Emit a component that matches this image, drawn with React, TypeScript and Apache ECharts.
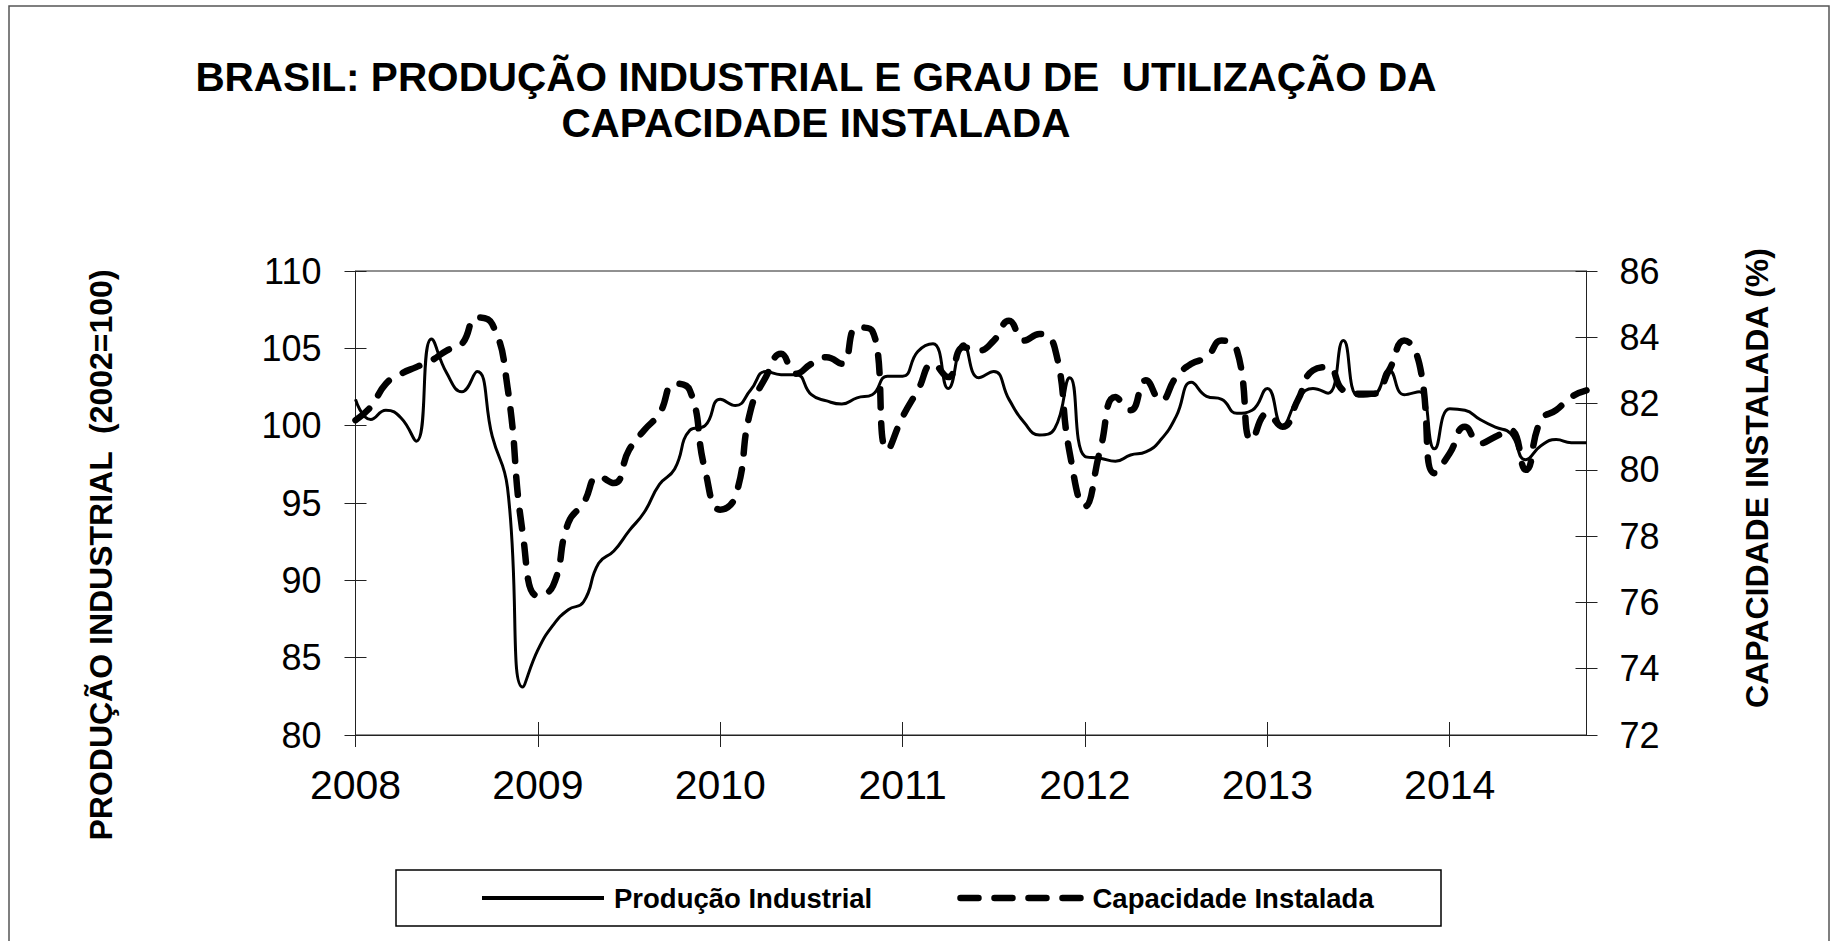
import React, { useEffect, useRef } from 'react';
import * as echarts from 'echarts';

const FONT = '"Liberation Sans", Arial, sans-serif';

const TITLE = 'BRASIL: PRODUÇÃO INDUSTRIAL E GRAU DE  UTILIZAÇÃO DA\nCAPACIDADE INSTALADA';
const LEFT_AXIS_TITLE = 'PRODUÇÃO INDUSTRIAL  (2002=100)';
const RIGHT_AXIS_TITLE = 'CAPACIDADE INSTALADA (%)';
const SERIES_NAMES = ['Produção Industrial', 'Capacidade Instalada'];

const years = ['2008', '2009', '2010', '2011', '2012', '2013', '2014'];
const monthCodes = ['01', '02', '03', '04', '05', '06', '07', '08', '09', '10', '11', '12'];
const lastYearMonths = 10; // data ends in Oct 2014

const months: string[] = [];
years.forEach((y, yi) => {
  const n = yi === years.length - 1 ? lastYearMonths : 12;
  for (let m = 0; m < n; m++) months.push(`${y}-${monthCodes[m]}`);
});

// Produção Industrial (2002=100), Jan 2008 – Oct 2014
const producao = [
  101.7, 100.4, 101.0, 100.5, 99.0, 105.6, 103.4, 102.2, 103.5, 99.3, 96.0, 83.1,
  85.5, 87.1, 88.1, 88.6, 91.1, 91.9, 93.2, 94.4, 96.2, 97.2, 99.7, 100.0,
  101.7, 101.3, 102.3, 103.5, 103.3, 103.3, 102.0, 101.6, 101.4, 101.8, 102.0, 103.2,
  103.2, 104.8, 105.3, 102.4, 105.3, 103.1, 103.5, 101.7, 100.2, 99.4, 99.8, 103.1,
  98.0, 97.9, 97.7, 98.1, 98.3, 99.1, 100.6, 102.8, 101.9, 101.7, 100.8, 101.0,
  102.4, 100.0, 101.7, 102.4, 102.1, 105.5, 101.9, 102.0, 103.6, 102.0, 102.2, 98.5,
  101.1, 101.0, 100.4, 99.9, 99.5, 97.8, 98.7, 99.1, 98.9, 98.9,
];

// Grau de utilização da capacidade instalada (%), Jan 2008 – Oct 2014
const capacidade = [
  81.5, 81.9, 82.6, 82.9, 83.1, 83.3, 83.6, 83.8, 84.6, 84.4, 82.5, 78.1,
  76.2, 76.5, 78.4, 79.0, 79.8, 79.6, 80.6, 81.2, 81.7, 82.6, 82.4, 80.0,
  78.8, 79.2, 81.8, 82.8, 83.5, 82.9, 83.2, 83.4, 83.2, 84.3, 84.2, 80.6,
  81.6, 82.4, 83.2, 82.8, 83.7, 83.6, 83.9, 84.5, 83.9, 84.1, 83.7, 80.5,
  78.9, 80.6, 82.2, 81.8, 82.7, 82.1, 82.8, 83.2, 83.4, 83.9, 83.6, 80.9,
  81.7, 81.3, 82.1, 83.0, 83.1, 82.4, 82.3, 82.3, 83.0, 83.9, 83.2, 79.9,
  80.5, 81.3, 80.8, 81.0, 81.2, 80.0, 81.5, 81.8, 82.2, 82.4,
];

const leftTicks = { min: 80, max: 110, interval: 5 };
const rightTicks = { min: 72, max: 86, interval: 2 };

export default function App() {
  const ref = useRef<HTMLDivElement>(null);

  useEffect(() => {
    if (!ref.current) return;
    const chart = echarts.init(ref.current, null, { renderer: 'svg' });

    const yearFormatter = (v: string) => (v.endsWith('-01') ? v.slice(0, 4) : '');

    const baseX = {
      type: 'category' as const,
      data: months,
      boundaryGap: false,
      position: 'bottom' as const,
      splitLine: { show: false },
    };

    chart.setOption({
      animation: false,
      backgroundColor: '#ffffff',
      title: {
        text: TITLE,
        left: 816,
        top: 54,
        textAlign: 'center',
        padding: 0,
        textStyle: {
          fontFamily: FONT,
          fontSize: 40.5,
          fontWeight: 'bold',
          lineHeight: 46,
          color: '#000',
        },
      },
      grid: {
        left: 355.5,
        right: 248.5,
        top: 271,
        bottom: 206,
        show: true,
        borderColor: '#222',
        borderWidth: 1,
        backgroundColor: 'transparent',
      },
      legend: {
        left: 480,
        top: 884,
        padding: 0,
        itemWidth: 122,
        itemHeight: 28,
        itemGap: 85,
        data: [
          { name: SERIES_NAMES[0], lineStyle: { width: 4 } },
          { name: SERIES_NAMES[1] },
        ],
        lineStyle: { width: 'inherit' },
        itemStyle: { opacity: 0 },
        textStyle: {
          fontFamily: FONT,
          fontSize: 27.5,
          fontWeight: 'bold',
          color: '#000',
          lineHeight: 28,
          padding: [0, 0, 0, 5],
        },
      },
      xAxis: [
        {
          ...baseX,
          axisLine: { show: true, lineStyle: { color: '#222', width: 1 } },
          axisTick: { show: true, interval: 11, length: 12, inside: false, lineStyle: { color: '#222' } },
          axisLabel: {
            interval: 11,
            formatter: yearFormatter,
            fontFamily: FONT,
            fontSize: 41,
            color: '#000',
            margin: 29,
          },
        },
        {
          ...baseX,
          axisLine: { show: false },
          axisTick: { show: true, interval: 11, length: 13, inside: true, lineStyle: { color: '#222' } },
          axisLabel: { show: false },
        },
      ],
      yAxis: [
        {
          type: 'value',
          position: 'left',
          ...leftTicks,
          splitLine: { show: false },
          axisLine: { show: true, lineStyle: { color: '#222', width: 1 } },
          axisTick: { show: true, length: 11, inside: false, lineStyle: { color: '#222' } },
          axisLabel: { fontFamily: FONT, fontSize: 36, color: '#000', margin: 34 },
        },
        {
          type: 'value',
          position: 'right',
          ...rightTicks,
          splitLine: { show: false },
          axisLine: { show: true, lineStyle: { color: '#222', width: 1 } },
          axisTick: { show: true, length: 11, inside: false, lineStyle: { color: '#222' } },
          axisLabel: { fontFamily: FONT, fontSize: 36, color: '#000', margin: 33 },
        },
        {
          type: 'value',
          position: 'left',
          ...leftTicks,
          splitLine: { show: false },
          axisLine: { show: false },
          axisTick: { show: true, length: 11, inside: true, lineStyle: { color: '#222' } },
          axisLabel: { show: false },
        },
        {
          type: 'value',
          position: 'right',
          ...rightTicks,
          splitLine: { show: false },
          axisLine: { show: false },
          axisTick: { show: true, length: 11, inside: true, lineStyle: { color: '#222' } },
          axisLabel: { show: false },
        },
      ],
      series: [
        {
          name: SERIES_NAMES[0],
          type: 'line',
          data: producao,
          xAxisIndex: 0,
          yAxisIndex: 0,
          smooth: 0.5,
          symbol: 'none',
          lineStyle: { color: '#000', width: 3, join: 'round' },
          itemStyle: { color: '#000' },
          z: 2,
        },
        {
          name: SERIES_NAMES[1],
          type: 'line',
          data: capacidade,
          xAxisIndex: 0,
          yAxisIndex: 1,
          smooth: 0.5,
          symbol: 'none',
          lineStyle: { color: '#000', width: 6.5, type: [18, 16], cap: 'round', join: 'round' },
          itemStyle: { color: '#000' },
          z: 3,
        },
      ],
      graphic: [
        {
          type: 'rect',
          silent: true,
          shape: { x: 9, y: 6, width: 1820, height: 960 },
          style: { fill: 'none', stroke: '#555', lineWidth: 1.5 },
          z: -1,
        },
        {
          type: 'rect',
          silent: true,
          shape: { x: 396, y: 870, width: 1045, height: 56 },
          style: { fill: 'none', stroke: '#000', lineWidth: 1.5 },
        },
        {
          type: 'text',
          x: 101,
          y: 555,
          rotation: Math.PI / 2,
          style: {
            text: LEFT_AXIS_TITLE,
            fontFamily: FONT,
            fontSize: 32,
            fontWeight: 'bold',
            fill: '#000',
            align: 'center',
            verticalAlign: 'middle',
          },
        },
        {
          type: 'text',
          x: 1757,
          y: 478,
          rotation: Math.PI / 2,
          style: {
            text: RIGHT_AXIS_TITLE,
            fontFamily: FONT,
            fontSize: 32,
            fontWeight: 'bold',
            fill: '#000',
            align: 'center',
            verticalAlign: 'middle',
          },
        },
      ],
    });

    return () => chart.dispose();
  }, []);

  return (
    <div
      ref={ref}
      style={{ position: 'fixed', left: 0, top: 0, width: '1835px', height: '941px', background: '#fff' }}
    />
  );
}
